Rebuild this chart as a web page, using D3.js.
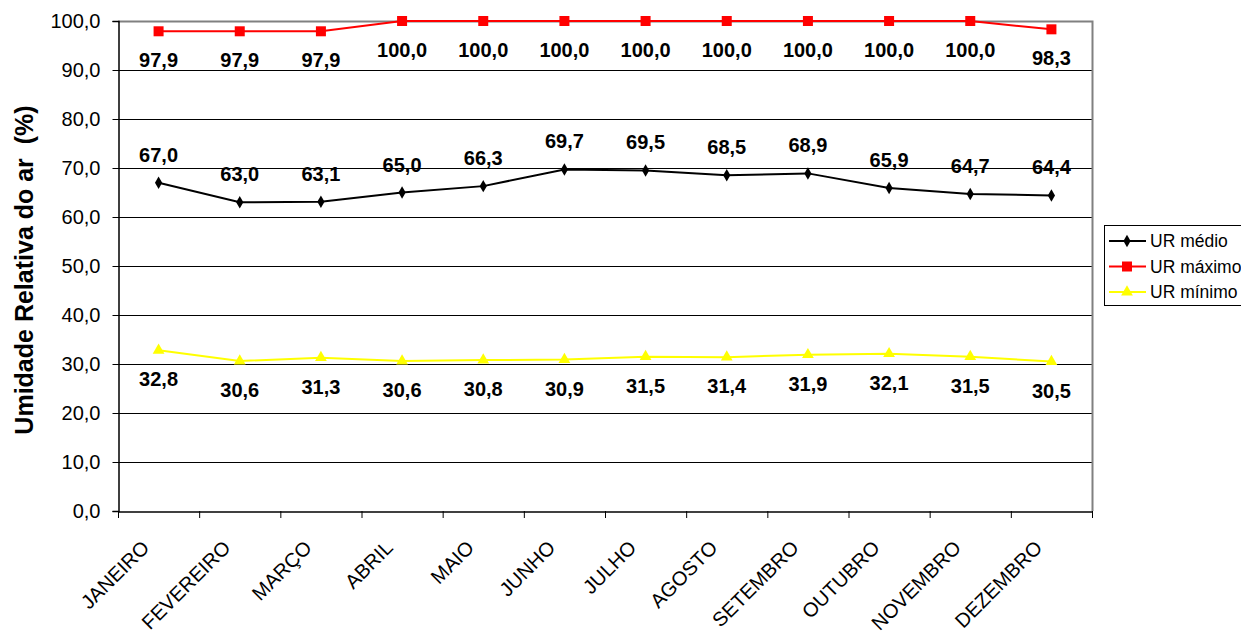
<!DOCTYPE html>
<html><head><meta charset="utf-8">
<script src="https://cdn.jsdelivr.net/npm/d3@7"></script>
<style>body{margin:0;background:#fff}svg{display:block;font-family:"Liberation Sans",Arial,sans-serif}</style>
</head><body><svg id="c" width="1241" height="631"></svg>
<script>
const months = ["JANEIRO","FEVEREIRO","MARÇO","ABRIL","MAIO","JUNHO","JULHO","AGOSTO","SETEMBRO","OUTUBRO","NOVEMBRO","DEZEMBRO"];
const urMedio = [67.0,63.0,63.1,65.0,66.3,69.7,69.5,68.5,68.9,65.9,64.7,64.4];
const urMaximo = [97.9,97.9,97.9,100.0,100.0,100.0,100.0,100.0,100.0,100.0,100.0,98.3];
const urMinimo = [32.8,30.6,31.3,30.6,30.8,30.9,31.5,31.4,31.9,32.1,31.5,30.5];
const yTicks = [0,10,20,30,40,50,60,70,80,90,100];
const fmt = v => v.toFixed(1).replace(".", ",");

const svg = d3.select("#c");
const L = 118, R = 1092, T = 21, B = 511;
const x = d3.scaleBand().domain(months).range([L, R]);
const y = d3.scaleLinear().domain([0,100]).range([B, T]);
const cx = m => x(m) + x.bandwidth()/2;

// gridlines
svg.append("g").selectAll("line").data(yTicks.filter(t=>t>0)).join("line")
  .attr("x1", L).attr("x2", R).attr("y1", d=>y(d)+0.5).attr("y2", d=>y(d)+0.5)
  .attr("stroke", "#000").attr("stroke-width", 1);
// plot border (gray top/right)
svg.append("path").attr("d", `M${L},${T+0.5}H${R+0.5}V${B}`).attr("fill","none").attr("stroke","#808080").attr("stroke-width",2);

// y axis
const ya = svg.append("g").attr("transform", `translate(${L+0.5},0)`)
  .call(d3.axisLeft(y).tickValues(yTicks).tickFormat(fmt).tickSize(6).tickPadding(12));
ya.select(".domain").attr("stroke","#000").attr("stroke-width",1.5);
ya.selectAll(".tick line").attr("stroke","#000");
ya.selectAll("text").attr("font-size", 20).attr("fill","#000").attr("font-family","Liberation Sans, Arial, sans-serif");

// x axis
const xa = svg.append("g").attr("transform", `translate(0,${B+0.5})`)
  .call(d3.axisBottom(x).tickSize(0).tickFormat(""));
xa.select(".domain").attr("stroke","#000").attr("stroke-width",1.5);
svg.append("g").selectAll("line").data(d3.range(months.length+1)).join("line")
  .attr("x1", i=>L + i*x.bandwidth()+0.5).attr("x2", i=>L + i*x.bandwidth()+0.5)
  .attr("y1", B).attr("y2", B+7).attr("stroke","#000");
svg.append("g").selectAll("text").data(months).join("text")
  .attr("transform", d=>`translate(${cx(d)-8},${B+38}) rotate(-45)`)
  .attr("text-anchor","end").attr("font-size",20).attr("fill","#000").text(d=>d);

// y title
svg.append("text").attr("transform", `translate(33,${270}) rotate(-90)`)
  .attr("text-anchor","middle").attr("font-size",25).attr("font-weight","bold")
  .style("white-space","pre").text("Umidade Relativa do ar  (%)");

const line = d3.line().x((d,i)=>cx(months[i])).y(d=>y(d));

function series(data, color, marker, labelDy){
  const g = svg.append("g");
  g.append("path").datum(data).attr("d", line).attr("fill","none").attr("stroke",color).attr("stroke-width",2);
  data.forEach((v,i)=>{
    const px = cx(months[i]), py = y(v);
    if(marker==="diamond") g.append("path").attr("d", d3.symbol(d3.symbolDiamond, 45)()).attr("transform",`translate(${px},${py})`).attr("fill",color);
    else if(marker==="square") g.append("rect").attr("x",px-5).attr("y",py-5).attr("width",10).attr("height",10).attr("fill",color);
    else g.append("path").attr("d", d3.symbol(d3.symbolTriangle, 60)()).attr("transform",`translate(${px},${py})`).attr("fill",color);
    g.append("text").attr("x",px).attr("y",py+labelDy).attr("text-anchor","middle")
      .attr("font-size",20).attr("font-weight","bold").attr("fill","#000").text(fmt(v));
  });
}
series(urMedio, "#000000", "diamond", -21);
series(urMaximo, "#ff0000", "square", 36);
series(urMinimo, "#ffff00", "triangle", 36);

// legend
const lg = svg.append("g").attr("transform","translate(1104,225)");
lg.append("rect").attr("x",0.5).attr("y",0.5).attr("width",160).attr("height",80).attr("fill","#fff").attr("stroke","#000");
const items = [["UR médio","#000","diamond"],["UR máximo","#ff0000","square"],["UR mínimo","#ffff00","triangle"]];
items.forEach((it,i)=>{
  const yy = 16 + i*25.5;
  lg.append("line").attr("x1",5).attr("x2",42).attr("y1",yy).attr("y2",yy).attr("stroke",it[1]).attr("stroke-width",2);
  if(it[2]==="diamond") lg.append("path").attr("d",d3.symbol(d3.symbolDiamond,45)()).attr("transform",`translate(23,${yy})`).attr("fill",it[1]);
  else if(it[2]==="square") lg.append("rect").attr("x",18).attr("y",yy-5).attr("width",10).attr("height",10).attr("fill",it[1]);
  else lg.append("path").attr("d",d3.symbol(d3.symbolTriangle,60)()).attr("transform",`translate(23,${yy})`).attr("fill",it[1]);
  lg.append("text").attr("x",46).attr("y",yy+6).attr("font-size",17.5).attr("fill","#000").text(it[0]);
});
</script></body></html>
